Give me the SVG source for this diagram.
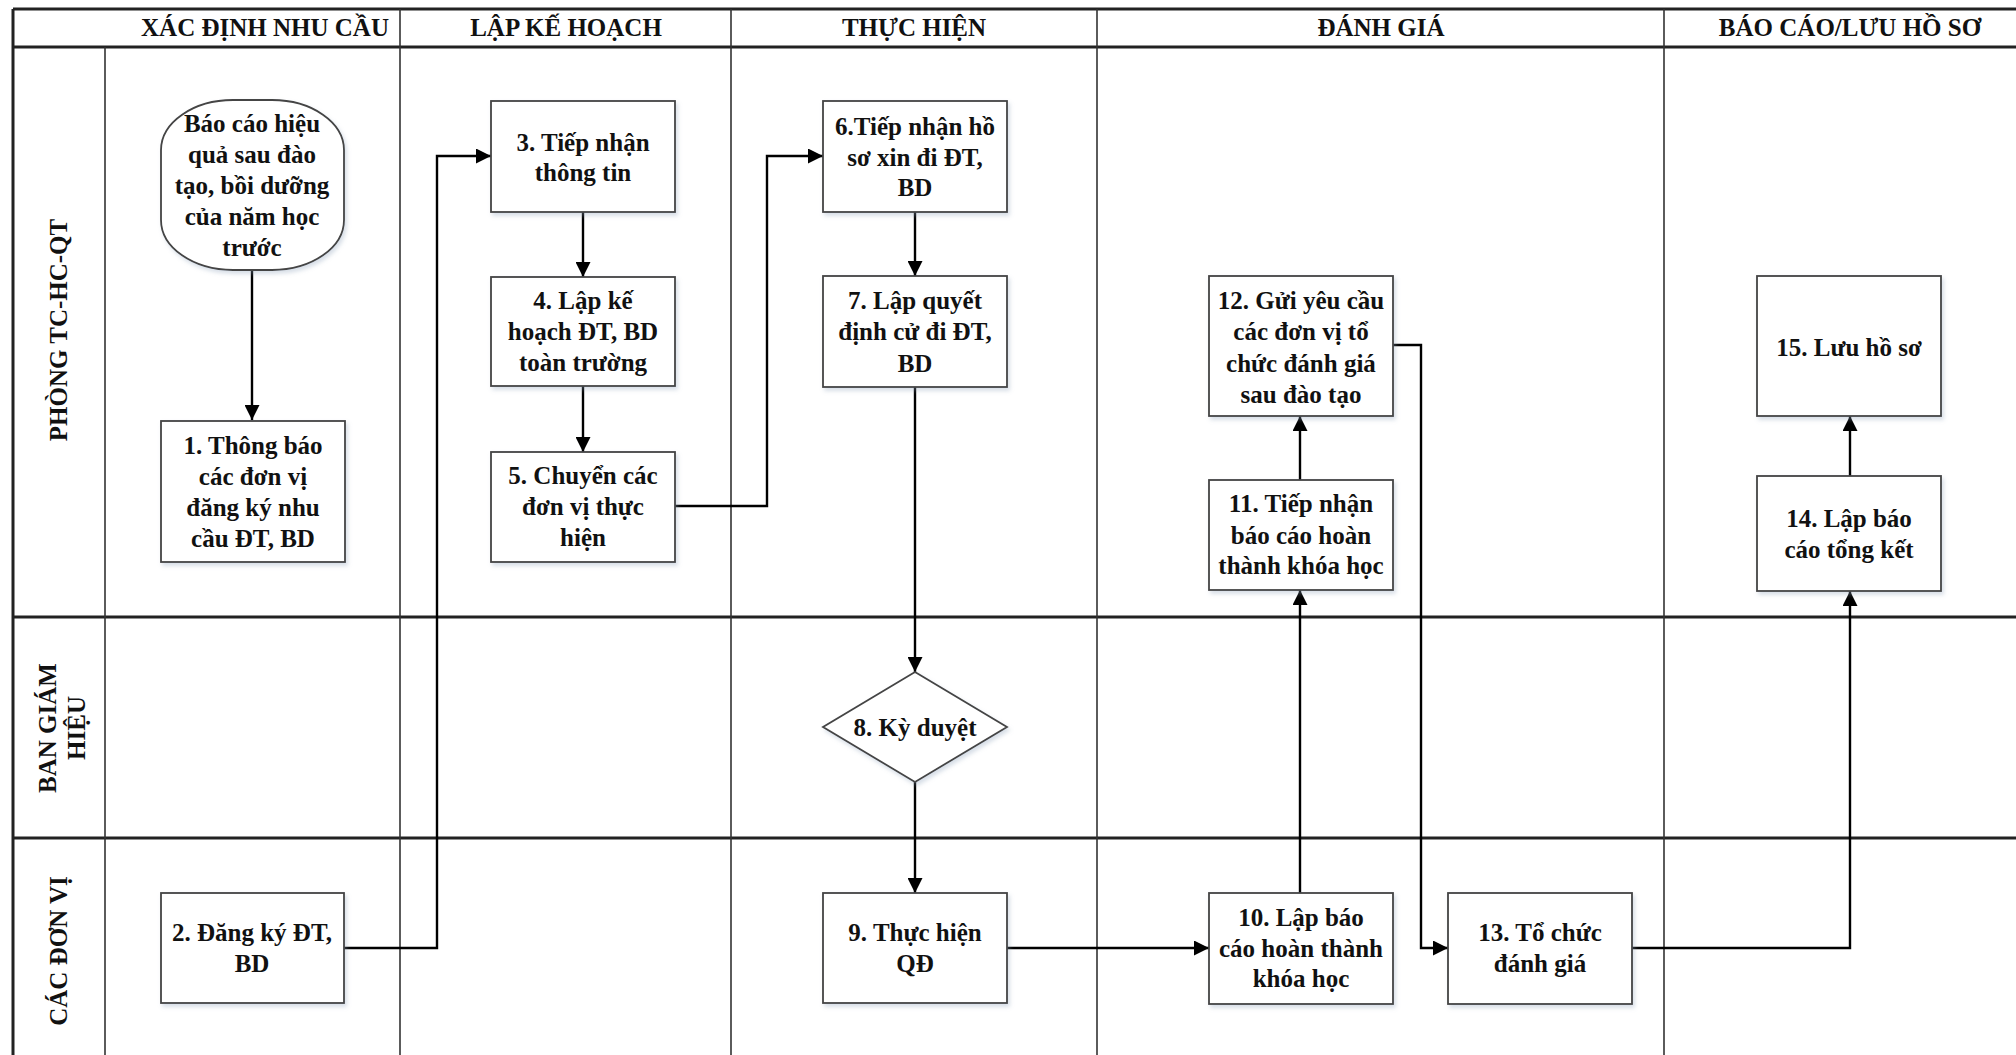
<svg xmlns="http://www.w3.org/2000/svg" width="2016" height="1055" viewBox="0 0 2016 1055">
<defs>
<marker id="arr" viewBox="0 0 10 10" refX="10" refY="5" markerWidth="18" markerHeight="15" markerUnits="userSpaceOnUse" orient="auto">
<path d="M0,0 L10,5 L0,10 z" fill="#000"/>
</marker>
<filter id="sh" x="-10%" y="-10%" width="130%" height="130%">
<feDropShadow dx="2" dy="3" stdDeviation="2" flood-color="#8aa0b8" flood-opacity="0.35"/>
</filter>
</defs>
<style>
text{font-family:"Liberation Serif","Times New Roman",serif;font-weight:bold;fill:#111;text-anchor:middle;}
.hd{font-size:25px;}
.ln{font-size:25px;}
.nt{font-size:25px;}
.box{fill:#fff;stroke:#444;stroke-width:1.8;filter:url(#sh);}
.thick{stroke:#222;stroke-width:3;fill:none;}
.thin{stroke:#333;stroke-width:1.6;fill:none;}
.con{stroke:#000;stroke-width:2.4;fill:none;marker-end:url(#arr);}
</style>
<rect x="0" y="0" width="2016" height="1055" fill="#fff"/>
<g id="frame">
<line class="thick" x1="13" y1="9" x2="2016" y2="9"/>
<line class="thick" x1="13" y1="47" x2="2016" y2="47"/>
<line class="thick" x1="13" y1="617" x2="2016" y2="617"/>
<line class="thick" x1="13" y1="838" x2="2016" y2="838"/>
<line class="thick" x1="13" y1="9" x2="13" y2="1055"/>
<line class="thin" x1="105" y1="47" x2="105" y2="1055"/>
<line class="thin" x1="400" y1="9" x2="400" y2="1055"/>
<line class="thin" x1="731" y1="9" x2="731" y2="1055"/>
<line class="thin" x1="1097" y1="9" x2="1097" y2="1055"/>
<line class="thin" x1="1664" y1="9" x2="1664" y2="1055"/>
<text class="hd" x="265" y="36">XÁC ĐỊNH NHU CẦU</text>
<text class="hd" x="566" y="36">LẬP KẾ HOẠCH</text>
<text class="hd" x="914" y="36">THỰC HIỆN</text>
<text class="hd" x="1381" y="36">ĐÁNH GIÁ</text>
<text class="hd" x="1850" y="36">BÁO CÁO/LƯU HỒ SƠ</text>
<text class="ln" transform="translate(67,330) rotate(-90)">PHÒNG TC-HC-QT</text>
<text class="ln" transform="translate(56,728) rotate(-90)">BAN GIÁM</text>
<text class="ln" transform="translate(85,728) rotate(-90)">HIỆU</text>
<text class="ln" transform="translate(67,951) rotate(-90)">CÁC ĐƠN VỊ</text>
</g>
<g id="connectors">
<path class="con" d="M252,270 L252,420"/>
<path class="con" d="M344,948 L437,948 L437,156 L491,156"/>
<path class="con" d="M583,212 L583,277"/>
<path class="con" d="M583,386 L583,452"/>
<path class="con" d="M675,506 L767,506 L767,156 L823,156"/>
<path class="con" d="M915,212 L915,276"/>
<path class="con" d="M915,387 L915,672"/>
<path class="con" d="M915,782 L915,893"/>
<path class="con" d="M1007,948 L1209,948"/>
<path class="con" d="M1300,893 L1300,590"/>
<path class="con" d="M1300,480 L1300,416"/>
<path class="con" d="M1393,345 L1421,345 L1421,948 L1448,948"/>
<path class="con" d="M1632,948 L1850,948 L1850,591"/>
<path class="con" d="M1850,476 L1850,416"/>
</g>
<g id="n0">
<rect class="box" x="161" y="100" width="183" height="170" rx="72" ry="50"/>
<text class="nt" x="252" y="132">Báo cáo hiệu</text>
<text class="nt" x="252" y="163">quả sau đào</text>
<text class="nt" x="252" y="194">tạo, bồi dưỡng</text>
<text class="nt" x="252" y="225">của năm học</text>
<text class="nt" x="252" y="256">trước</text>
</g>
<g id="n1">
<rect class="box" x="161" y="421" width="184" height="141"/>
<text class="nt" x="253" y="454">1. Thông báo</text>
<text class="nt" x="253" y="485">các đơn vị</text>
<text class="nt" x="253" y="516">đăng ký nhu</text>
<text class="nt" x="253" y="547">cầu ĐT, BD</text>
</g>
<g id="n2">
<rect class="box" x="161" y="893" width="183" height="110"/>
<text class="nt" x="252" y="941">2. Đăng ký ĐT,</text>
<text class="nt" x="252" y="972">BD</text>
</g>
<g id="n3">
<rect class="box" x="491" y="101" width="184" height="111"/>
<text class="nt" x="583" y="151">3. Tiếp nhận</text>
<text class="nt" x="583" y="181">thông tin</text>
</g>
<g id="n4">
<rect class="box" x="491" y="277" width="184" height="109"/>
<text class="nt" x="583" y="309">4. Lập kế</text>
<text class="nt" x="583" y="340">hoạch ĐT, BD</text>
<text class="nt" x="583" y="371">toàn trường</text>
</g>
<g id="n5">
<rect class="box" x="491" y="452" width="184" height="110"/>
<text class="nt" x="583" y="484">5. Chuyển các</text>
<text class="nt" x="583" y="515">đơn vị thực</text>
<text class="nt" x="583" y="546">hiện</text>
</g>
<g id="n6">
<rect class="box" x="823" y="101" width="184" height="111"/>
<text class="nt" x="915" y="135">6.Tiếp nhận hồ</text>
<text class="nt" x="915" y="166">sơ xin đi ĐT,</text>
<text class="nt" x="915" y="196">BD</text>
</g>
<g id="n7">
<rect class="box" x="823" y="276" width="184" height="111"/>
<text class="nt" x="915" y="309">7. Lập quyết</text>
<text class="nt" x="915" y="340">định cử đi ĐT,</text>
<text class="nt" x="915" y="372">BD</text>
</g>
<g id="n8">
<path class="box" d="M915,672 L1007,727 L915,782 L823,727 Z"/>
<text class="nt" x="915" y="736">8. Kỳ duyệt</text>
</g>
<g id="n9">
<rect class="box" x="823" y="893" width="184" height="110"/>
<text class="nt" x="915" y="941">9. Thực hiện</text>
<text class="nt" x="915" y="972">QĐ</text>
</g>
<g id="n10">
<rect class="box" x="1209" y="893" width="184" height="111"/>
<text class="nt" x="1301" y="926">10. Lập báo</text>
<text class="nt" x="1301" y="957">cáo hoàn thành</text>
<text class="nt" x="1301" y="987">khóa học</text>
</g>
<g id="n11">
<rect class="box" x="1209" y="480" width="184" height="110"/>
<text class="nt" x="1301" y="512">11. Tiếp nhận</text>
<text class="nt" x="1301" y="544">báo cáo hoàn</text>
<text class="nt" x="1301" y="574">thành khóa học</text>
</g>
<g id="n12">
<rect class="box" x="1209" y="276" width="184" height="140"/>
<text class="nt" x="1301" y="309">12. Gửi yêu cầu</text>
<text class="nt" x="1301" y="340">các đơn vị tổ</text>
<text class="nt" x="1301" y="372">chức đánh giá</text>
<text class="nt" x="1301" y="403">sau đào tạo</text>
</g>
<g id="n13">
<rect class="box" x="1448" y="893" width="184" height="111"/>
<text class="nt" x="1540" y="941">13. Tổ chức</text>
<text class="nt" x="1540" y="972">đánh giá</text>
</g>
<g id="n14">
<rect class="box" x="1757" y="476" width="184" height="115"/>
<text class="nt" x="1849" y="527">14. Lập báo</text>
<text class="nt" x="1849" y="558">cáo tổng kết</text>
</g>
<g id="n15">
<rect class="box" x="1757" y="276" width="184" height="140"/>
<text class="nt" x="1849" y="356">15. Lưu hồ sơ</text>
</g>
</svg>
